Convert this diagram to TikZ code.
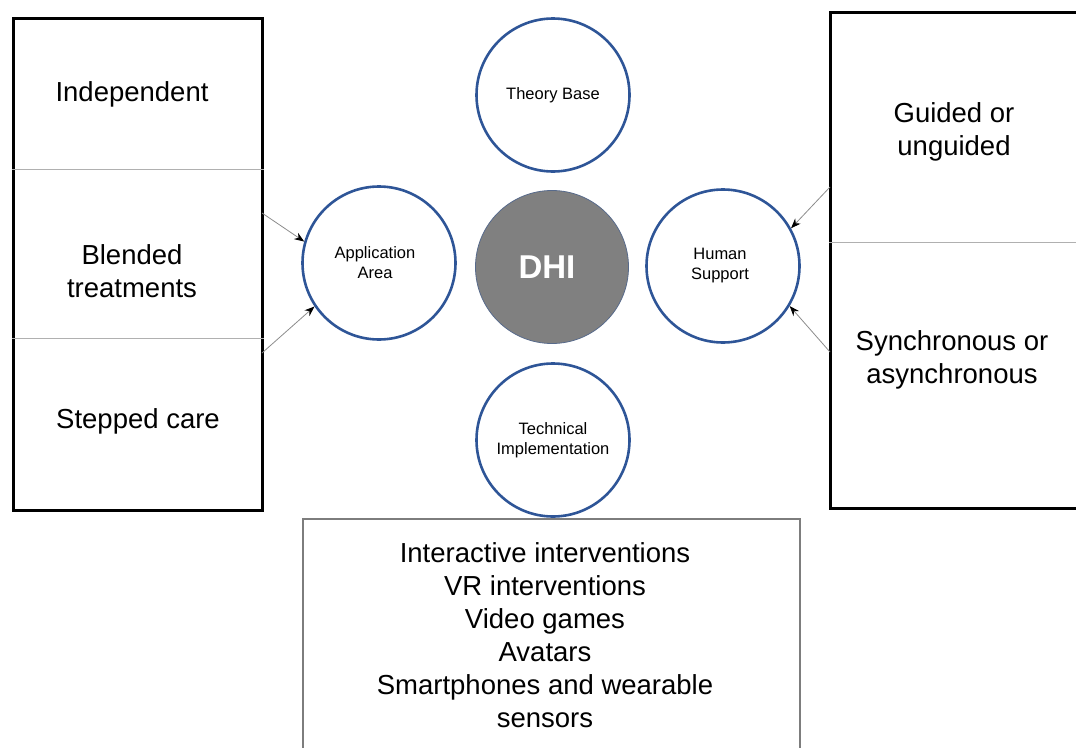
\documentclass[tikz,border=0pt]{standalone}
\usepackage{fontspec}
\setmainfont{Liberation Sans}
\usetikzlibrary{arrows.meta}

\definecolor{ringblue}{RGB}{46,85,151}
\definecolor{hubgray}{RGB}{128,128,128}
\definecolor{rulegray}{RGB}{176,176,176}
\definecolor{linkgray}{RGB}{140,140,140}
\definecolor{framegray}{RGB}{125,125,125}

\tikzset{
  bigtext/.style={font=\fontsize{27.5}{33}\selectfont, align=center, inner sep=0pt},
  smalltext/.style={font=\fontsize{16.5}{20}\selectfont, align=center},
  ring/.style={circle, draw=ringblue, line width=2.6pt, minimum size=153pt,
               inner sep=0pt, smalltext},
  hub/.style={circle, draw=ringblue!50!hubgray, line width=0.8pt, fill=hubgray,
              minimum size=153pt, inner sep=0pt, text=white,
              font=\fontsize{33}{36}\selectfont\bfseries},
  panel/.style={draw=black, line width=3pt, inner sep=0pt},
  divider/.style={draw=rulegray, line width=1pt},
  feed/.style={draw=linkgray, line width=0.8pt,
               -{Stealth[black,length=10pt,width=7.5pt]}}
}

\begin{document}
\begin{tikzpicture}[x=1pt, y=-1pt]
\useasboundingbox (0,0) rectangle (1076,747);
\clip (0,0) rectangle (1076,747);

% left panel: modes of delivery
\node[panel, minimum width=249pt, minimum height=492pt] (lbox) at (137.5,264) {};
\draw[divider] (lbox.west |- 0,169) -- (lbox.east |- 0,169);
\draw[divider] (lbox.west |- 0,338) -- (lbox.east |- 0,338);
\node[bigtext] (indep) at (132,94.5) {Independent};
\node[bigtext] (blend) at (132,271) {Blended\\treatments};
\node[bigtext] (stepc) at (138,421) {Stepped care};

% right panel: forms of human support
\node[panel, minimum width=270pt, minimum height=496pt] (rbox) at (965,260) {};
\draw[divider] (rbox.west |- 0,242) -- (rbox.east |- 0,242);
\node[bigtext] (guide) at (954,131.5) {Guided or\\unguided};
\node[bigtext] (synch) at (952,359.5) {Synchronous or\\asynchronous};

% bottom panel: technical options
\node[draw=framegray, line width=2.5pt, minimum width=497pt, minimum height=250pt,
      inner sep=0pt] (bbox) at (551.5,644) {};
\node[bigtext] (tech) at (545,635) {Interactive interventions\\VR interventions\\Video games\\Avatars\\Smartphones and wearable\\sensors};

% the four dimensions around the hub
\node[ring] (theory) at (553,95) {Theory Base};
\node[hub] (dhi) at (552,267) {\hspace*{-10pt}DHI};
\node[ring] (app) at (379,263) {\hspace*{-8pt}Application\\\hspace*{-8pt}Area};
\node[ring] (human) at (723,266) {\hspace*{-6pt}Human\\\hspace*{-6pt}Support};
\node[ring] (impl) at (553,440) {Technical\\Implementation};

% links from the panels to the circles
\coordinate (l1) at (262,213);
\coordinate (l2) at (262,353);
\coordinate (r1) at (830,187);
\coordinate (r2) at (830,352);
\draw[feed] (l1) -- (app.164);
\draw[feed] (l2) -- (app.214);
\draw[feed] (r1) -- (human.29);
\draw[feed] (r2) -- (human.-31);
\end{tikzpicture}
\end{document}
